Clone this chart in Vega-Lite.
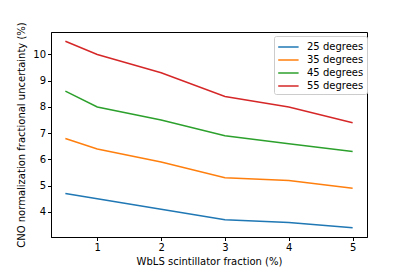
{
  "$schema": "https://vega.github.io/schema/vega-lite/v6.json",
  "autosize": {"type": "none"},
  "padding": {"left": 51, "top": 32, "right": 40, "bottom": 34},
  "width": 316,
  "height": 205,
  "background": "white",
  "config": {
    "view": {"stroke": "black", "strokeWidth": 1},
    "font": "DejaVu Sans",
    "axis": {
      "labelFont": "DejaVu Sans", "labelFontSize": 10, "labelColor": "black",
      "titleFont": "DejaVu Sans", "titleFontSize": 10, "titleFontWeight": "normal", "titleColor": "black",
      "grid": false, "tickColor": "black", "tickSize": 3.5, "domainColor": "black", "domain": true
    }
  },
  "data": {"values": [
    {"x": 0.5, "y": 4.7, "s": "25 degrees"},
    {"x": 1, "y": 4.5, "s": "25 degrees"},
    {"x": 2, "y": 4.1, "s": "25 degrees"},
    {"x": 3, "y": 3.7, "s": "25 degrees"},
    {"x": 4, "y": 3.6, "s": "25 degrees"},
    {"x": 5, "y": 3.4, "s": "25 degrees"},
    {"x": 0.5, "y": 6.8, "s": "35 degrees"},
    {"x": 1, "y": 6.4, "s": "35 degrees"},
    {"x": 2, "y": 5.9, "s": "35 degrees"},
    {"x": 3, "y": 5.3, "s": "35 degrees"},
    {"x": 4, "y": 5.2, "s": "35 degrees"},
    {"x": 5, "y": 4.9, "s": "35 degrees"},
    {"x": 0.5, "y": 8.6, "s": "45 degrees"},
    {"x": 1, "y": 8.0, "s": "45 degrees"},
    {"x": 2, "y": 7.5, "s": "45 degrees"},
    {"x": 3, "y": 6.9, "s": "45 degrees"},
    {"x": 4, "y": 6.6, "s": "45 degrees"},
    {"x": 5, "y": 6.3, "s": "45 degrees"},
    {"x": 0.5, "y": 10.5, "s": "55 degrees"},
    {"x": 1, "y": 10.0, "s": "55 degrees"},
    {"x": 2, "y": 9.3, "s": "55 degrees"},
    {"x": 3, "y": 8.4, "s": "55 degrees"},
    {"x": 4, "y": 8.0, "s": "55 degrees"},
    {"x": 5, "y": 7.4, "s": "55 degrees"}
  ]},
  "mark": {"type": "line", "strokeWidth": 1.5},
  "encoding": {
    "x": {
      "field": "x", "type": "quantitative",
      "scale": {"domain": [0.275, 5.225], "nice": false, "zero": false},
      "axis": {"values": [1, 2, 3, 4, 5], "title": "WbLS scintillator fraction (%)", "titlePadding": 4}
    },
    "y": {
      "field": "y", "type": "quantitative",
      "scale": {"domain": [3.045, 10.855], "nice": false, "zero": false},
      "axis": {"values": [4, 5, 6, 7, 8, 9, 10], "title": "CNO normalization fractional uncertainty (%)", "titlePadding": 6}
    },
    "color": {
      "field": "s", "type": "nominal",
      "scale": {"range": ["#1f77b4", "#ff7f0e", "#2ca02c", "#d62728"]},
      "legend": {
        "title": null, "orient": "none", "legendX": 223, "legendY": 4,
        "symbolType": "M-1,0H2", "symbolSize": 185, "symbolStrokeWidth": 1.5,
        "labelFont": "DejaVu Sans", "labelFontSize": 10, "labelColor": "black",
        "labelOffset": 14, "rowPadding": 0,
        "strokeColor": "#cccccc", "fillColor": "white", "cornerRadius": 2,
        "padding": 3
      }
    }
  }
}
